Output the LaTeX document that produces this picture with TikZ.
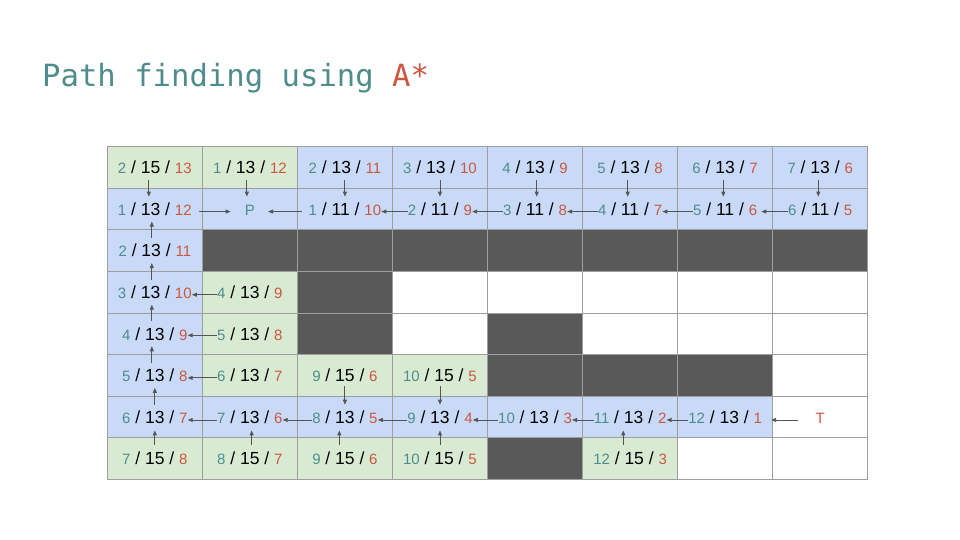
\documentclass[tikz,border=0pt]{standalone}
\usepackage{fontspec}
\setmainfont{Liberation Sans}
\newfontfamily\titlefont{DejaVu Sans Mono}
\usetikzlibrary{arrows.meta}
\definecolor{tealc}{RGB}{78,141,139}
\definecolor{redc}{RGB}{204,86,64}
\definecolor{bluec}{HTML}{C9DAF8}
\definecolor{greenc}{HTML}{D9EAD3}
\definecolor{darkc}{HTML}{595959}
\definecolor{gridc}{HTML}{9E9E9E}
\definecolor{arrc}{HTML}{555555}
\newcommand{\tl}[1]{{\color{tealc}\fontsize{15}{18}\selectfont #1}}
\newcommand{\rd}[1]{{\color{redc}\fontsize{15}{18}\selectfont #1}}
\newcommand{\cv}[3]{\tl{#1} / #2 / \rd{#3}}
\newcommand{\mycell}[3]{\node[ct] (c#1#2) at ({107.3+95.05*(#2+0.5)},{146.7+41.58*(#1+0.5)}) {#3};}
\begin{document}
\begin{tikzpicture}[x=1pt,y=-1pt,
  ct/.style={inner sep=0pt, text height=12.5pt, text depth=0pt, font=\fontsize{17.5}{20}\selectfont},
  arr/.style={draw=arrc, line width=0.9pt, -{Triangle[length=5pt,width=4pt]}},
  varr/.style={arr, shorten <=6pt, shorten >=6pt},
  harr/.style={arr}]
\useasboundingbox (0,0) rectangle (960,540);
\fill[white] (0,0) rectangle (960,540);
% title
\node[anchor=base west, inner sep=0pt, font=\titlefont\fontsize{30.6}{34}\selectfont, text=tealc] (title) at (42,86.5) {Path finding using \textcolor{redc}{A*}};
% cell fills
\foreach \r/\c in {0/0,0/1,3/1,4/1,5/1,5/2,5/3,7/0,7/1,7/2,7/3,7/5}
  \fill[greenc] ({107.3+95.05*\c},{146.7+41.58*\r}) rectangle ++(95.05,41.58);
\foreach \r/\c in {0/2,0/3,0/4,0/5,0/6,0/7,1/0,1/1,1/2,1/3,1/4,1/5,1/6,1/7,2/0,3/0,4/0,5/0,6/0,6/1,6/2,6/3,6/4,6/5,6/6}
  \fill[bluec] ({107.3+95.05*\c},{146.7+41.58*\r}) rectangle ++(95.05,41.58);
\foreach \r/\c in {2/1,2/2,2/3,2/4,2/5,2/6,2/7,3/2,4/2,4/4,5/4,5/5,5/6,7/4}
  \fill[darkc] ({107.3+95.05*\c},{146.7+41.58*\r}) rectangle ++(95.05,41.58);
% grid
\foreach \i in {0,...,8} {
  \draw[gridc, line width=1pt] ({107.3+95.05*\i},146.7) -- ++(0,332.64);
  \draw[gridc, line width=1pt] (107.3,{146.7+41.58*\i}) -- ++(760.4,0);
}
% cell texts
\mycell{0}{0}{\cv{2}{15}{13}}
\mycell{0}{1}{\cv{1}{13}{12}}
\mycell{0}{2}{\cv{2}{13}{11}}
\mycell{0}{3}{\cv{3}{13}{10}}
\mycell{0}{4}{\cv{4}{13}{9}}
\mycell{0}{5}{\cv{5}{13}{8}}
\mycell{0}{6}{\cv{6}{13}{7}}
\mycell{0}{7}{\cv{7}{13}{6}}
\mycell{1}{0}{\cv{1}{13}{12}}
\mycell{1}{1}{\tl{P}}
\mycell{1}{2}{\cv{1}{11}{10}}
\mycell{1}{3}{\cv{2}{11}{9}}
\mycell{1}{4}{\cv{3}{11}{8}}
\mycell{1}{5}{\cv{4}{11}{7}}
\mycell{1}{6}{\cv{5}{11}{6}}
\mycell{1}{7}{\cv{6}{11}{5}}
\mycell{2}{0}{\cv{2}{13}{11}}
\mycell{3}{0}{\cv{3}{13}{10}}
\mycell{3}{1}{\cv{4}{13}{9}}
\mycell{4}{0}{\cv{4}{13}{9}}
\mycell{4}{1}{\cv{5}{13}{8}}
\mycell{5}{0}{\cv{5}{13}{8}}
\mycell{5}{1}{\cv{6}{13}{7}}
\mycell{5}{2}{\cv{9}{15}{6}}
\mycell{5}{3}{\cv{10}{15}{5}}
\mycell{6}{0}{\cv{6}{13}{7}}
\mycell{6}{1}{\cv{7}{13}{6}}
\mycell{6}{2}{\cv{8}{13}{5}}
\mycell{6}{3}{\cv{9}{13}{4}}
\mycell{6}{4}{\cv{10}{13}{3}}
\mycell{6}{5}{\cv{11}{13}{2}}
\mycell{6}{6}{\cv{12}{13}{1}}
\mycell{6}{7}{\rd{T}}
\mycell{7}{0}{\cv{7}{15}{8}}
\mycell{7}{1}{\cv{8}{15}{7}}
\mycell{7}{2}{\cv{9}{15}{6}}
\mycell{7}{3}{\cv{10}{15}{5}}
\mycell{7}{5}{\cv{12}{15}{3}}
% arrows row0 -> row1
\draw[varr] ([xshift=-6pt]c00.south) -- ([xshift=-6pt]c10.north);
\draw[varr] ([xshift=-3pt]c01.south) -- ([xshift=-3pt]c11.north);
\draw[varr] (c02.south) -- (c12.north);
\draw[varr] (c03.south) -- (c13.north);
\draw[varr] ([xshift=1.7pt]c04.south) -- ([xshift=1.7pt]c14.north);
\draw[varr] ([xshift=-2.4pt]c05.south) -- ([xshift=-2.4pt]c15.north);
\draw[varr] ([xshift=-1.8pt]c06.south) -- ([xshift=-1.8pt]c16.north);
\draw[varr] ([xshift=-1.9pt]c07.south) -- ([xshift=-1.9pt]c17.north);
% row1 horizontal
\draw[harr, shorten <=7.5pt, shorten >=14pt] ([yshift=-2.5pt]c10.east) -- ([yshift=-2.5pt]c11.west);
\draw[harr, shorten <=7pt, shorten >=13pt] ([yshift=-2.5pt]c12.west) -- ([yshift=-2.5pt]c11.east);
\draw[harr] ([yshift=-2.5pt]c13.west) -- ([yshift=-2.5pt]c12.east);
\draw[harr] ([yshift=-2.5pt]c14.west) -- ([yshift=-2.5pt]c13.east);
\draw[harr] ([yshift=-2.5pt]c15.west) -- ([yshift=-2.5pt]c14.east);
\draw[harr] ([yshift=-2.5pt]c16.west) -- ([yshift=-2.5pt]c15.east);
\draw[harr, shorten >=4pt] ([yshift=-2.5pt]c17.west) -- ([yshift=-2.5pt]c16.east);
% column 0 upward
\draw[varr] ([xshift=-3pt]c20.north) -- ([xshift=-3pt]c10.south);
\draw[varr] ([xshift=-3pt]c30.north) -- ([xshift=-3pt]c20.south);
\draw[varr] ([xshift=-3pt]c40.north) -- ([xshift=-3pt]c30.south);
\draw[varr] ([xshift=-3pt]c50.north) -- ([xshift=-3pt]c40.south);
\draw[varr] (c60.north) -- (c50.south);
% rows 3-5 horizontal
\draw[harr] ([yshift=-2.5pt]c31.west) -- ([yshift=-2.5pt]c30.east);
\draw[harr] ([yshift=-1.5pt]c41.west) -- ([yshift=-1.5pt]c40.east);
\draw[harr] ([yshift=-2.5pt]c51.west) -- ([yshift=-2.5pt]c50.east);
% row5 -> row6 down
\draw[arr, shorten <=4.5pt, shorten >=5.8pt] (c52.south) -- (c62.north);
\draw[arr, shorten <=4.5pt, shorten >=5.8pt] (c53.south) -- (c63.north);
% row6 horizontal
\draw[harr] ([yshift=-3pt]c61.west) -- ([yshift=-3pt]c60.east);
\draw[harr] ([yshift=-3pt]c62.west) -- ([yshift=-3pt]c61.east);
\draw[harr] ([yshift=-3pt]c63.west) -- ([yshift=-3pt]c62.east);
\draw[harr] ([yshift=-3pt]c64.west) -- ([yshift=-3pt]c63.east);
\draw[harr] ([yshift=-3pt]c65.west) -- ([yshift=-3pt]c64.east);
\draw[harr] ([yshift=-3pt]c66.west) -- ([yshift=-3pt]c65.east);
\draw[harr, shorten <=17pt, shorten >=9pt] ([yshift=-3pt]c67.west) -- ([yshift=-3pt]c66.east);
% row7 -> row6 up
\draw[arr, shorten <=7pt, shorten >=7pt] (c70.north) -- (c60.south);
\draw[arr, shorten <=7pt, shorten >=7pt] ([xshift=1.8pt]c71.north) -- ([xshift=1.8pt]c61.south);
\draw[arr, shorten <=7pt, shorten >=7pt] ([xshift=-5.6pt]c72.north) -- ([xshift=-5.6pt]c62.south);
\draw[arr, shorten <=7pt, shorten >=7pt] (c73.north) -- (c63.south);
\draw[arr, shorten <=7pt, shorten >=7pt] ([xshift=-6.8pt]c75.north) -- ([xshift=-6.8pt]c65.south);
\end{tikzpicture}
\end{document}
